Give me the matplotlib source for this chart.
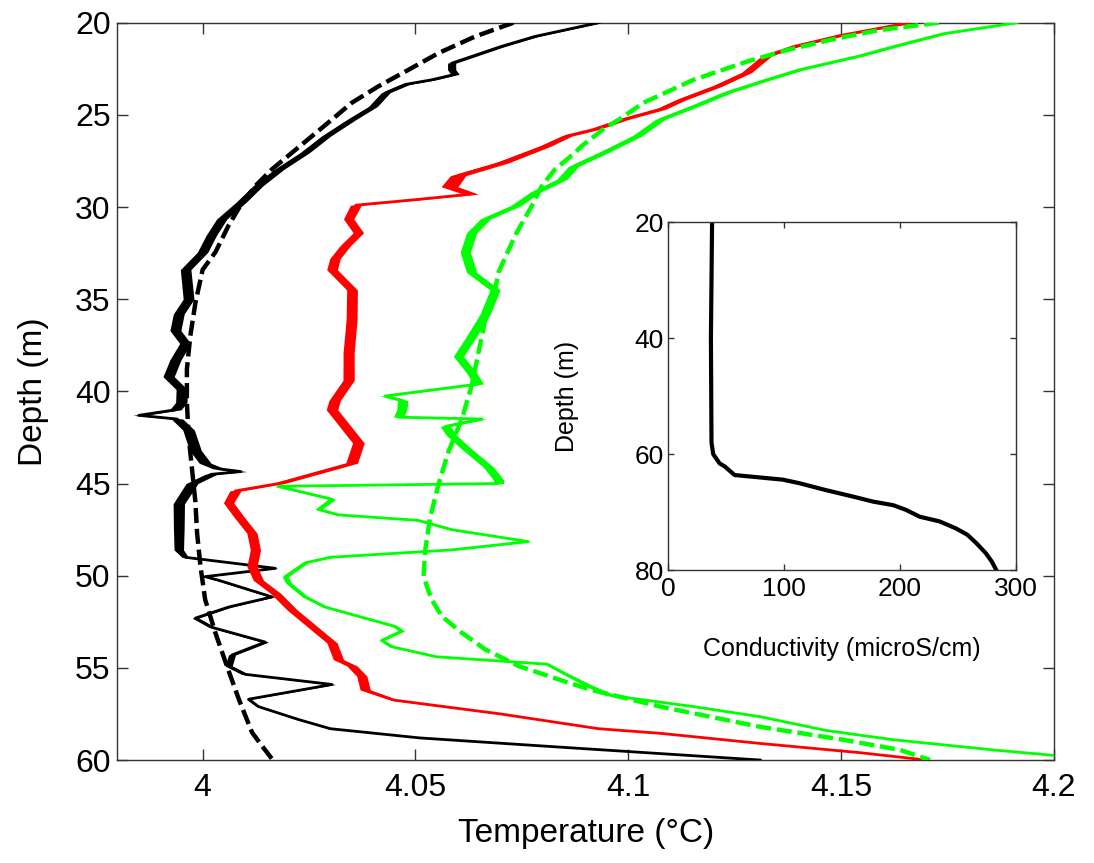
import matplotlib
matplotlib.use("Agg")
import matplotlib.pyplot as plt
import numpy as np

plt.rcParams['font.family'] = ['Liberation Sans', 'DejaVu Sans']

# ---- temperature profiles: depth (m) and temperature (deg C) ----
black_depth = [20.0, 20.75, 21.3, 22.2, 22.55, 22.8, 23.1, 23.35, 23.8, 24.55, 25.25, 26.15,
               27.05, 27.95, 28.85, 29.75, 30.65, 31.55, 32.45, 33.4, 35.0, 35.8, 36.7, 37.4,
               38.3, 39.2, 39.9, 40.6, 41.0, 41.3, 41.5, 42.1, 43.2, 43.9, 44.2, 44.35, 44.5,
               45.0, 46.1, 47.35, 48.6, 49.0, 49.6, 50.05, 50.25, 51.15, 51.7, 52.3, 52.8,
               53.6, 54.3, 54.9, 55.35, 55.9, 56.7, 57.1, 57.8, 58.3, 58.8, 59.3, 60.0]
black_temp = [4.093, 4.078, 4.070, 4.0585, 4.0585, 4.0593, 4.0538, 4.0476, 4.043, 4.040, 4.035,
              4.029, 4.024, 4.018, 4.013, 4.009, 4.0045, 4.002, 4.000, 3.996, 3.9967, 3.9944,
              3.9936, 3.9959, 3.9936, 3.992, 3.9951, 3.995, 3.9936, 3.985, 3.994, 3.9967,
              3.9983, 4.0006, 4.0038, 4.009, 4.002, 3.9975, 3.9944, 3.9944, 3.9944, 3.9959,
              4.0171, 4.0006, 4.0038, 4.0163, 4.0061, 3.9983, 4.0022, 4.0147, 4.0069, 4.0061,
              4.010, 4.0304, 4.0108, 4.0131, 4.0225, 4.030, 4.051, 4.084, 4.131]

red_depth = [20.0, 20.7, 21.3, 21.8, 22.7, 23.45, 24.2, 24.7, 25.25, 25.8, 26.15, 26.7, 27.6,
             28.3, 28.9, 29.3, 29.6, 29.9, 30.65, 31.4, 32.1, 32.8, 33.4, 34.5, 36.1, 37.9,
             39.4, 40.5, 41.0, 41.9, 42.8, 43.9, 44.4, 45.0, 45.4, 46.05, 46.8, 47.7, 48.6,
             49.5, 50.25, 50.95, 51.85, 52.75, 53.65, 54.55, 54.9, 55.45, 56.2, 56.75, 57.5,
             58.3, 58.55, 59.1, 59.6, 60.0]
red_temp = [4.166, 4.1497, 4.1388, 4.1325, 4.1278, 4.1208, 4.1122, 4.1075, 4.0988, 4.0918,
            4.0855, 4.0804, 4.0703, 4.060, 4.058, 4.063, 4.050, 4.036, 4.0343, 4.0366,
            4.0335, 4.0311, 4.0304, 4.0351, 4.035, 4.0343, 4.0343, 4.031, 4.0304, 4.0335,
            4.0366, 4.035, 4.0272, 4.0178, 4.0077, 4.0061, 4.0085, 4.0116, 4.0124, 4.0116,
            4.0131, 4.0171, 4.021, 4.0257, 4.0304, 4.0319, 4.0351, 4.0374, 4.0382, 4.045,
            4.070, 4.093, 4.1075, 4.131, 4.1544, 4.170]

green_depth = [20.0, 20.6, 21.3, 21.8, 22.55, 23.1, 23.8, 24.55, 25.25, 26.15, 27.05, 27.8,
               28.5, 29.2, 29.95, 30.65, 31.4, 32.45, 33.55, 34.5, 35.8, 37.0, 38.1, 39.0,
               39.6, 40.25, 40.5, 41.0, 41.4, 41.5, 41.9, 42.4, 43.2, 44.1, 44.8, 45.0, 45.15,
               45.5, 45.85, 46.4, 46.7, 47.0, 47.2, 47.5, 48.15, 48.6, 49.0, 49.3, 50.05,
               50.4, 51.15, 51.7, 52.2, 52.75, 53.0, 53.5, 53.85, 54.4, 54.8, 55.3, 56.0,
               56.5, 57.1, 57.65, 58.4, 58.9, 59.45, 59.75, 60.0]
green_temp = [4.1912, 4.174, 4.1623, 4.1544, 4.1403, 4.1325, 4.1231, 4.1153, 4.1075, 4.102,
              4.0941, 4.0871, 4.0844, 4.0781, 4.0734, 4.0664, 4.0632, 4.0617, 4.0632, 4.0687,
              4.0664, 4.0632, 4.0601, 4.0632, 4.0648, 4.0429, 4.047, 4.0468, 4.046, 4.0656,
              4.057, 4.0585, 4.0624, 4.0671, 4.0695, 4.0695, 4.0178, 4.0241, 4.0304, 4.0272,
              4.0319, 4.0507, 4.0538, 4.0585, 4.0765, 4.0585, 4.030, 4.0241, 4.0194, 4.0202,
              4.0241, 4.0288, 4.0366, 4.0452, 4.0468, 4.0421, 4.0444, 4.055, 4.081, 4.085,
              4.091, 4.096, 4.1153, 4.131, 4.1466, 4.1623, 4.1857, 4.200, 4.205]

# sensor jitter envelope (half-width, deg C) at a few depths for each measured profile
black_jitter_depth = [20, 23, 30, 45, 48.5, 49.2, 56, 57, 60]
black_jitter = [0.0008, 0.0010, 0.0012, 0.0014, 0.0012, 0.0006, 0.0009, 0.0004, 0.0002]
red_jitter_depth = [20, 26, 29, 30, 45, 46, 56.5, 57, 60]
red_jitter = [0.0012, 0.0012, 0.0020, 0.0012, 0.0014, 0.0012, 0.0012, 0.0004, 0.0003]
green_jitter_depth = [20, 28, 30, 45, 46, 55, 56.5, 57, 60]
green_jitter = [0.0010, 0.0012, 0.0012, 0.0012, 0.0008, 0.0006, 0.0012, 0.0004, 0.0003]

# smooth model profiles (dashed)
black_model_depth = [20.0, 20.75, 21.65, 22.55, 23.45, 24.35, 25.25, 26.15, 27.05, 27.95, 28.85,
                     29.95, 31.0, 32.45, 33.4, 35.2, 37.0, 38.8, 40.6, 42.4, 44.2, 46.0, 47.7,
                     49.5, 51.3, 53.1, 54.9, 56.7, 58.5, 59.25, 60.0]
black_model_temp = [4.073, 4.064, 4.0554, 4.0484, 4.0413, 4.035, 4.0304, 4.0257, 4.021, 4.0163,
                    4.0124, 4.0088, 4.0061, 4.003, 4.000, 3.9983, 3.9971, 3.9963, 3.9963, 3.9967,
                    3.9975, 3.9983, 3.9987, 3.9995, 4.0006, 4.003, 4.0057, 4.0085, 4.0116, 4.014,
                    4.0165]

green_model_depth = [20.0, 20.4, 20.85, 21.5, 22.1, 23.1, 24.35, 25.1, 25.8, 26.7, 27.05, 27.95,
                     28.85, 29.95, 31.55, 33.55, 34.5, 36.1, 37.9, 39.7, 41.5, 43.3, 45.05, 46.9,
                     48.6, 50.05, 51.3, 52.2, 53.1, 54.0, 54.9, 55.8, 56.2, 57.1, 58.2, 58.9,
                     59.45, 60.0]
green_model_temp = [4.173, 4.159, 4.149, 4.137, 4.128, 4.1153, 4.1035, 4.0988, 4.094, 4.089,
                    4.0875, 4.0828, 4.0797, 4.0773, 4.0734, 4.0695, 4.0687, 4.0664, 4.0648,
                    4.0632, 4.0609, 4.0577, 4.0554, 4.0534, 4.0523, 4.0519, 4.0538, 4.0562,
                    4.0609, 4.0664, 4.0742, 4.0859, 4.0914, 4.1075, 4.131, 4.1505, 4.1638,
                    4.1709]

# ---- conductivity profile (inset) ----
cond_depth = [20, 40, 58, 60, 61.6, 62.1, 63.6, 63.75, 64.4, 65.0, 66.2, 67.3, 68.2, 68.8,
              69.6, 70.8, 71.6, 72.8, 73.9, 75.4, 77.1, 78.5, 80.0]
cond_value = [38, 37, 37.5, 39, 44.5, 48.8, 57.4, 65, 99, 113, 136, 159, 177, 194, 205, 217,
              234, 248, 258, 266, 274, 279, 283]

temp_ticks = [4.0, 4.05, 4.1, 4.15, 4.2]
temp_ticklabels = ['4', '4.05', '4.1', '4.15', '4.2']
depth_ticks = [20, 25, 30, 35, 40, 45, 50, 55, 60]
cond_ticks = [0, 100, 200, 300]
cond_depth_ticks = [20, 40, 60, 80]

GREEN = '#00ff00'
RED = '#ff0000'
AXCOL = '#333333'

fig = plt.figure(figsize=(10.94, 8.63), dpi=100)
ax = fig.add_axes([0.1074, 0.1193, 0.8560, 0.8544])


def measured(depth, temp, jd, jw, color):
    d = np.asarray(depth)
    t = np.asarray(temp)
    w = np.interp(d, jd, jw)
    ax.fill_betweenx(d, t - w, t + w, color=color, lw=0, zorder=3)
    ax.plot(t, d, color=color, lw=2.0, zorder=3)


measured(black_depth, black_temp, black_jitter_depth, black_jitter, 'black')
measured(red_depth, red_temp, red_jitter_depth, red_jitter, RED)
measured(green_depth, green_temp, green_jitter_depth, green_jitter, GREEN)

dash = (0, (3.4, 1.3))
ax.plot(black_model_temp, black_model_depth, color='black', lw=3.2, ls=dash, zorder=4)
ax.plot(green_model_temp, green_model_depth, color=GREEN, lw=3.2, ls=dash, zorder=4)

ax.set_xlim(3.98, 4.2)
ax.set_ylim(60, 20)
ax.set_xticks(temp_ticks)
ax.set_xticklabels(temp_ticklabels)
ax.set_yticks(depth_ticks)
ax.tick_params(direction='in', length=8, width=1, top=True, right=True,
               labelsize=23, color=AXCOL)
ax.tick_params(axis='x', pad=9)
ax.tick_params(axis='y', pad=5)
for s in ax.spines.values():
    s.set_color(AXCOL)
    s.set_linewidth(1)
ax.set_xlabel('Temperature (°C)', fontsize=24, labelpad=11)
ax.set_ylabel('Depth (m)', fontsize=24, labelpad=19)

# inset: conductivity
ins = fig.add_axes([0.6106, 0.3395, 0.3181, 0.4027])
ins.set_facecolor('white')
ins.set_zorder(5)
ins.plot(cond_value, cond_depth, color='black', lw=3)
ins.set_xlim(0, 300)
ins.set_ylim(80, 20)
ins.set_xticks(cond_ticks)
ins.set_yticks(cond_depth_ticks)
ins.tick_params(direction='in', length=4, width=1, top=True, right=True,
                labelsize=19, color=AXCOL)
ins.tick_params(axis='x', pad=5)
ins.tick_params(axis='y', pad=3)
for s in ins.spines.values():
    s.set_color(AXCOL)
    s.set_linewidth(1)
ins.set_xlabel('Conductivity (microS/cm)', fontsize=18, labelpad=26)
ins.set_ylabel('Depth (m)', fontsize=18, labelpad=40)

fig.savefig('out.png', dpi=100)
